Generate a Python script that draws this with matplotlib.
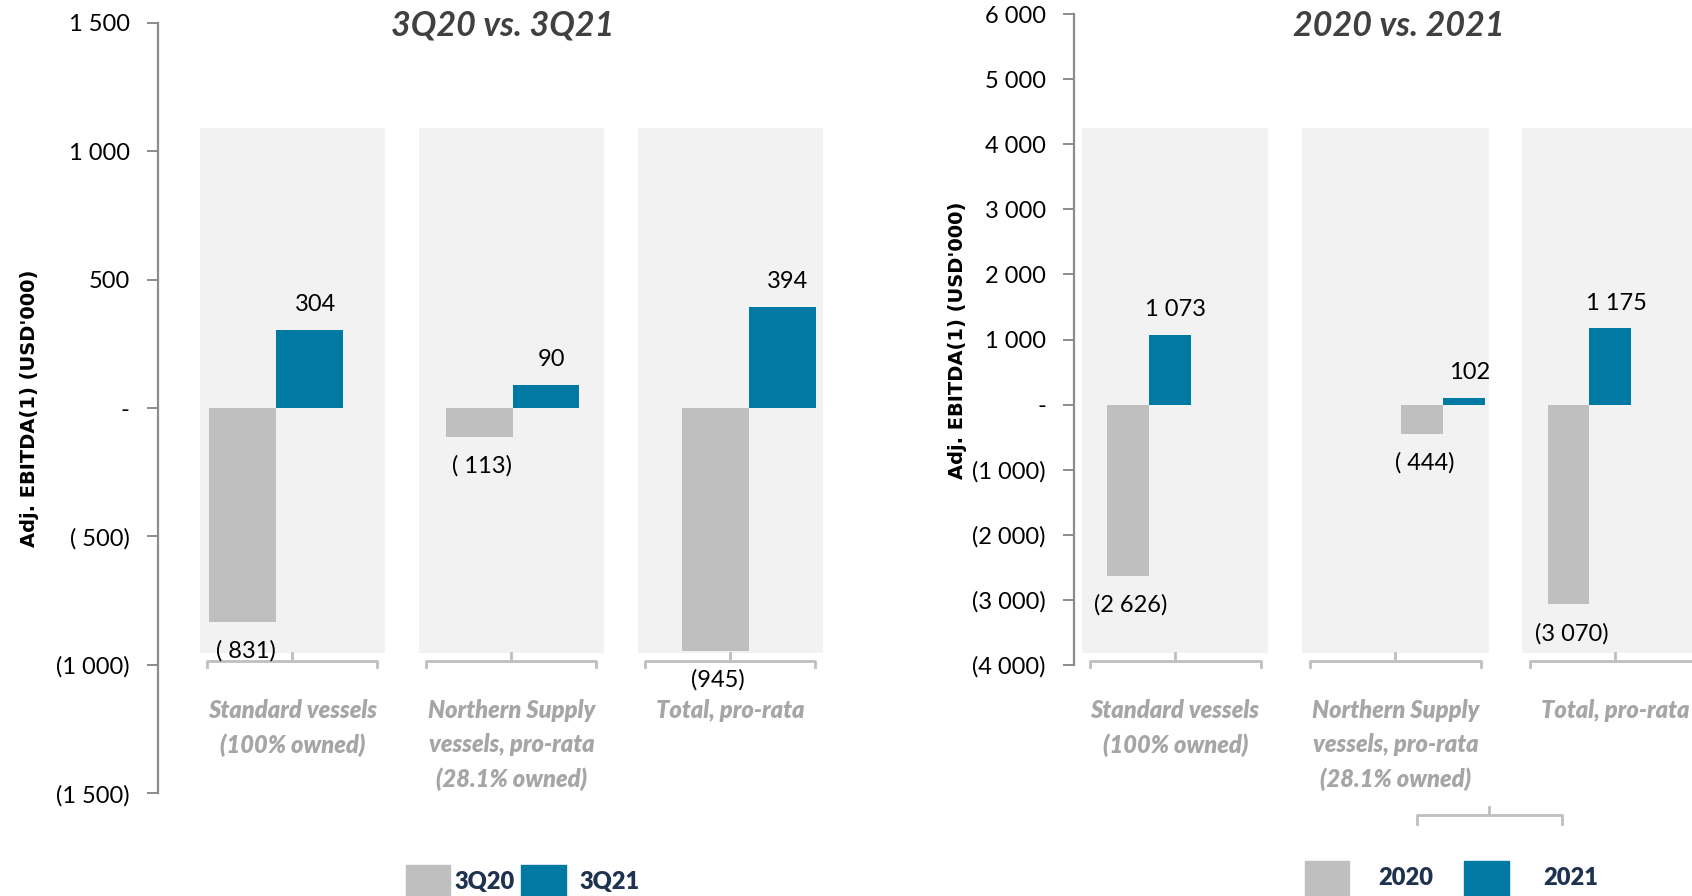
import matplotlib
matplotlib.use("Agg")
import matplotlib.pyplot as plt
from matplotlib.patches import Rectangle
from matplotlib import transforms

# data
categories = ["Standard vessels\n(100% owned)",
              "Northern Supply\nvessels, pro-rata\n(28.1% owned)",
              "Total, pro-rata"]

q_series = ["3Q20", "3Q21"]
q_prev = [-831, -113, -945]
q_curr = [304, 90, 394]
q_prev_labels = ["( 831)", "( 113)", "(945)"]
q_curr_labels = ["304", "90", "394"]
q_yticks = [-1500, -1000, -500, 0, 500, 1000, 1500]
q_yticklabels = ["(1 500)", "(1 000)", "( 500)", "-", "500", "1 000", "1 500"]

y_series = ["2020", "2021"]
y_prev = [-2626, -444, -3070]
y_curr = [1073, 102, 1175]
y_prev_labels = ["(2 626)", "( 444)", "(3 070)"]
y_curr_labels = ["1 073", "102", "1 175"]
y_yticks = [-4000, -3000, -2000, -1000, 0, 1000, 2000, 3000, 4000, 5000, 6000]
y_yticklabels = ["(4 000)", "(3 000)", "(2 000)", "(1 000)", "-", "1 000",
                 "2 000", "3 000", "4 000", "5 000", "6 000"]

GRAY = "#BFBFBF"
TEAL = "#0079A3"
BG = "#F2F2F2"
NAVY = "#1F3250"
FONT = ["Lato", "DejaVu Sans"]

plt.rcParams["font.family"] = FONT

fig = plt.figure(figsize=(16.92, 8.96), dpi=100)


def draw_panel(ax, prev, curr, prev_lab, curr_lab, yticks, yticklabels,
               bar_w, shifts, title, title_x):
    fy = transforms.blended_transform_factory(ax.transData, fig.transFigure)
    n = len(categories)
    # grey backgrounds behind each category
    for i in range(n):
        ax.add_patch(Rectangle((i - 0.4235, 0.2711), 0.847, 0.5855,
                               transform=fy, color=BG, zorder=0,
                               clip_on=False, lw=0))
    # bracket-style category axis
    for i in range(n):
        ax.plot([i - 0.388, i - 0.388, i + 0.388, i + 0.388],
                [0.2554, 0.2627, 0.2627, 0.2554], transform=fy,
                color=GRAY, lw=2, clip_on=False, zorder=1)
        ax.plot([i, i], [0.2627, 0.2711], transform=fy,
                color=GRAY, lw=2, clip_on=False, zorder=1)
        ax.text(i, 0.2200, categories[i], transform=fy, ha="center",
                va="top", fontsize=17, fontweight="heavy", style="italic",
                color="#A6A6A6", linespacing=1.57)

    pos = [i + shifts[i] for i in range(n)]
    b1 = ax.bar([p - bar_w / 2 for p in pos], prev, bar_w, color=GRAY, zorder=2)
    b2 = ax.bar([p + bar_w / 2 for p in pos], curr, bar_w, color=TEAL, zorder=2)
    for rect, lab in zip(b1, prev_lab):
        ax.annotate(lab, (rect.get_x() + rect.get_width() / 2, rect.get_height()),
                    xytext=(2, -21), textcoords="offset points",
                    ha="center", va="center", fontsize=17)
    for rect, lab in zip(b2, curr_lab):
        ax.annotate(lab, (rect.get_x() + rect.get_width() / 2, rect.get_height()),
                    xytext=(4, 18), textcoords="offset points",
                    ha="center", va="center", fontsize=17)

    ax.set_ylim(yticks[0], yticks[-1])
    ax.set_yticks(yticks)
    ax.set_yticklabels(yticklabels, fontsize=17)
    ax.set_xticks([])
    for s in ["top", "right", "bottom"]:
        ax.spines[s].set_visible(False)
    ax.spines["left"].set_color("#8C8C8C")
    ax.spines["left"].set_linewidth(1.6)
    ax.tick_params(axis="y", length=8, width=1.4, color="#8C8C8C", pad=12)
    ax.patch.set_alpha(0)

    fig.text(title_x, 0.9715, title, ha="center", va="center", fontsize=24.5,
             fontweight="bold", style="italic", color="#404040")


ax1 = fig.add_axes([0.0931, 0.1145, 0.4107, 0.8602])
ax1.set_xlim(-0.616, 2.557)
draw_panel(ax1, q_prev, q_curr, q_prev_labels, q_curr_labels, q_yticks,
           q_yticklabels, 0.305, [-0.074, 0.005, 0.084],
           q_series[0] + " vs. " + q_series[1], 0.2972)

ax2 = fig.add_axes([0.6346, 0.2578, 0.4496, 0.7265])
ax2.set_xlim(-0.461, 2.995)
draw_panel(ax2, y_prev, y_curr, y_prev_labels, y_curr_labels, y_yticks,
           y_yticklabels, 0.19, [-0.118, 0.216, -0.118],
           y_series[0] + " vs. " + y_series[1], 0.8265)

# y axis titles
fig.text(0.0172, 0.5446, "Adj. EBITDA(1) (USD'000)", rotation=90,
         ha="center", va="center", fontsize=14, fontweight="bold",
         family="DejaVu Sans")
fig.text(0.5657, 0.6205, "Adj. EBITDA(1) (USD'000)", rotation=90,
         ha="center", va="center", fontsize=14, fontweight="bold",
         family="DejaVu Sans")

# stray bracket under the right chart
fb = transforms.blended_transform_factory(ax2.transData, fig.transFigure)
ax2.plot([1.098, 1.098, 1.755, 1.755], [0.0807, 0.0904, 0.0904, 0.0807],
         transform=fb, color=GRAY, lw=2, clip_on=False)
ax2.plot([1.426, 1.426], [0.0904, 0.0988], transform=fb, color=GRAY,
         lw=2, clip_on=False)

# legends drawn by hand
def legend_entry(x0, x1, top, tx, ty, color, label):
    fig.patches.append(Rectangle((x0, -0.01), x1 - x0, top + 0.01,
                                 transform=fig.transFigure, color=color,
                                 figure=fig))
    fig.text(tx, ty, label, ha="left", va="center", fontsize=17,
             fontweight="heavy", color=NAVY)

legend_entry(0.2398, 0.2659, 0.0349, 0.2685, 0.0157, GRAY, q_series[0])
legend_entry(0.3080, 0.3348, 0.0349, 0.3425, 0.0157, TEAL, q_series[1])
legend_entry(0.7710, 0.7972, 0.0386, 0.8144, 0.0205, GRAY, y_series[0])
legend_entry(0.8654, 0.8916, 0.0386, 0.9120, 0.0205, TEAL, y_series[1])

fig.savefig("out.png", dpi=100)
